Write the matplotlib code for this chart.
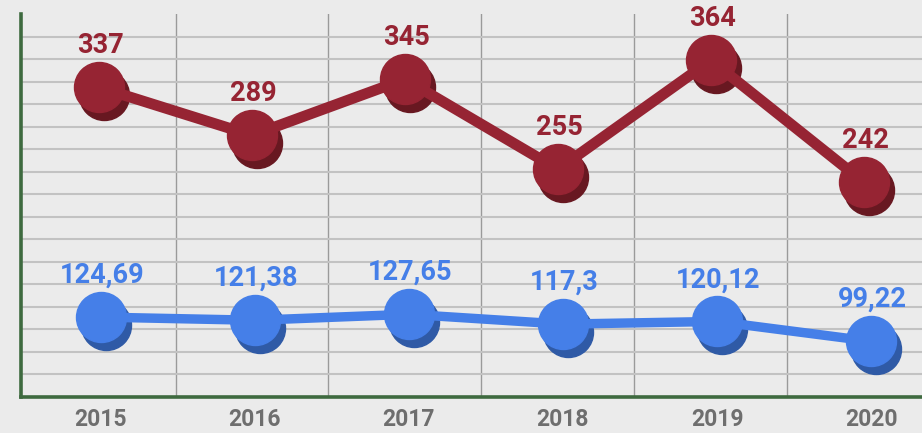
import matplotlib.pyplot as plt
import matplotlib.transforms as mtransforms
import numpy as np

# Data
years = ['2015', '2016', '2017', '2018', '2019', '2020']
red_values = [337, 289, 345, 255, 364, 242]
blue_values = [124.69, 121.38, 127.65, 117.3, 120.12, 99.22]

BG = '#ebebeb'
RED, RED_DARK = '#962433', '#681821'
BLUE, BLUE_DARK = '#457fe8', '#2f5aa6'
GREEN = '#3e6a3f'


def fmt(v):
    # decimal comma
    return f'{v:g}'.replace('.', ',')


plt.rcParams['font.family'] = ['Roboto', 'DejaVu Sans']

fig = plt.figure(figsize=(9.22, 4.33), dpi=100)
fig.patch.set_facecolor(BG)
rect = [21 / 922, 36 / 433, 901 / 922, 383 / 433]

# main axes: background, grid, spines and the red series
ax = fig.add_axes(rect)
ax.set_facecolor(BG)
ax.set_xticks(np.arange(len(years)) + 0.5)
ax.set_xlim(-0.51, 5.38)
ax.set_ylim(27.3, 410.3)
lo, hi = ax.get_ylim()
ax.set_yticks(np.linspace(lo, hi, 18)[1:-1])
ax.set_ylim(lo, hi)
ax.tick_params(length=0, labelleft=False, labelbottom=False)
ax.grid(axis='y', color='#c2c2c2', linewidth=1.5)
ax.grid(axis='x', color='#9a9a9a', linewidth=1.0)
ax.set_axisbelow(True)
for side in ['top', 'right']:
    ax.spines[side].set_visible(False)
for side in ['left', 'bottom']:
    ax.spines[side].set_color(GREEN)
    ax.spines[side].set_linewidth(2.6)
    ax.spines[side].set_zorder(5)

# second axes on top for the blue series and the year labels
ax_b = fig.add_axes(rect, label='blue')
ax_b.patch.set_visible(False)
for s in ax_b.spines.values():
    s.set_visible(False)
ax_b.set_yticks([])
ax_b.set_xticks(range(len(years)), years)
ax_b.set_xlim(-0.519, 5.331)
ax_b.set_ylim(40.6, 443.7)
ax_b.tick_params(axis='x', length=0, pad=8, labelsize=16.5, labelcolor='#6e6e6e')
for t in ax_b.get_xticklabels():
    t.set_fontweight('bold')


def draw_series(a, values, color, dark, lw):
    x = np.arange(len(values))
    shadow = mtransforms.offset_copy(a.transData, fig=fig, x=5, y=-8, units='dots')
    a.plot(x, values, 'o', ms=36, color=dark, mec=dark, transform=shadow, zorder=3)
    a.plot(x, values, '-', lw=lw, color=color, solid_capstyle='round', zorder=4)
    a.plot(x, values, 'o', ms=36, color=color, mec=color, zorder=6)
    for i, v in enumerate(values):
        a.annotate(fmt(v), (i, v), xytext=(1, 30), textcoords='offset points',
                   ha='center', va='center', fontsize=19.5, fontweight='bold',
                   color=color, zorder=7)


draw_series(ax, red_values, RED, RED_DARK, 7.8)
draw_series(ax_b, blue_values, BLUE, BLUE_DARK, 6.8)

fig.savefig('out.png', dpi=100, facecolor=fig.get_facecolor())
